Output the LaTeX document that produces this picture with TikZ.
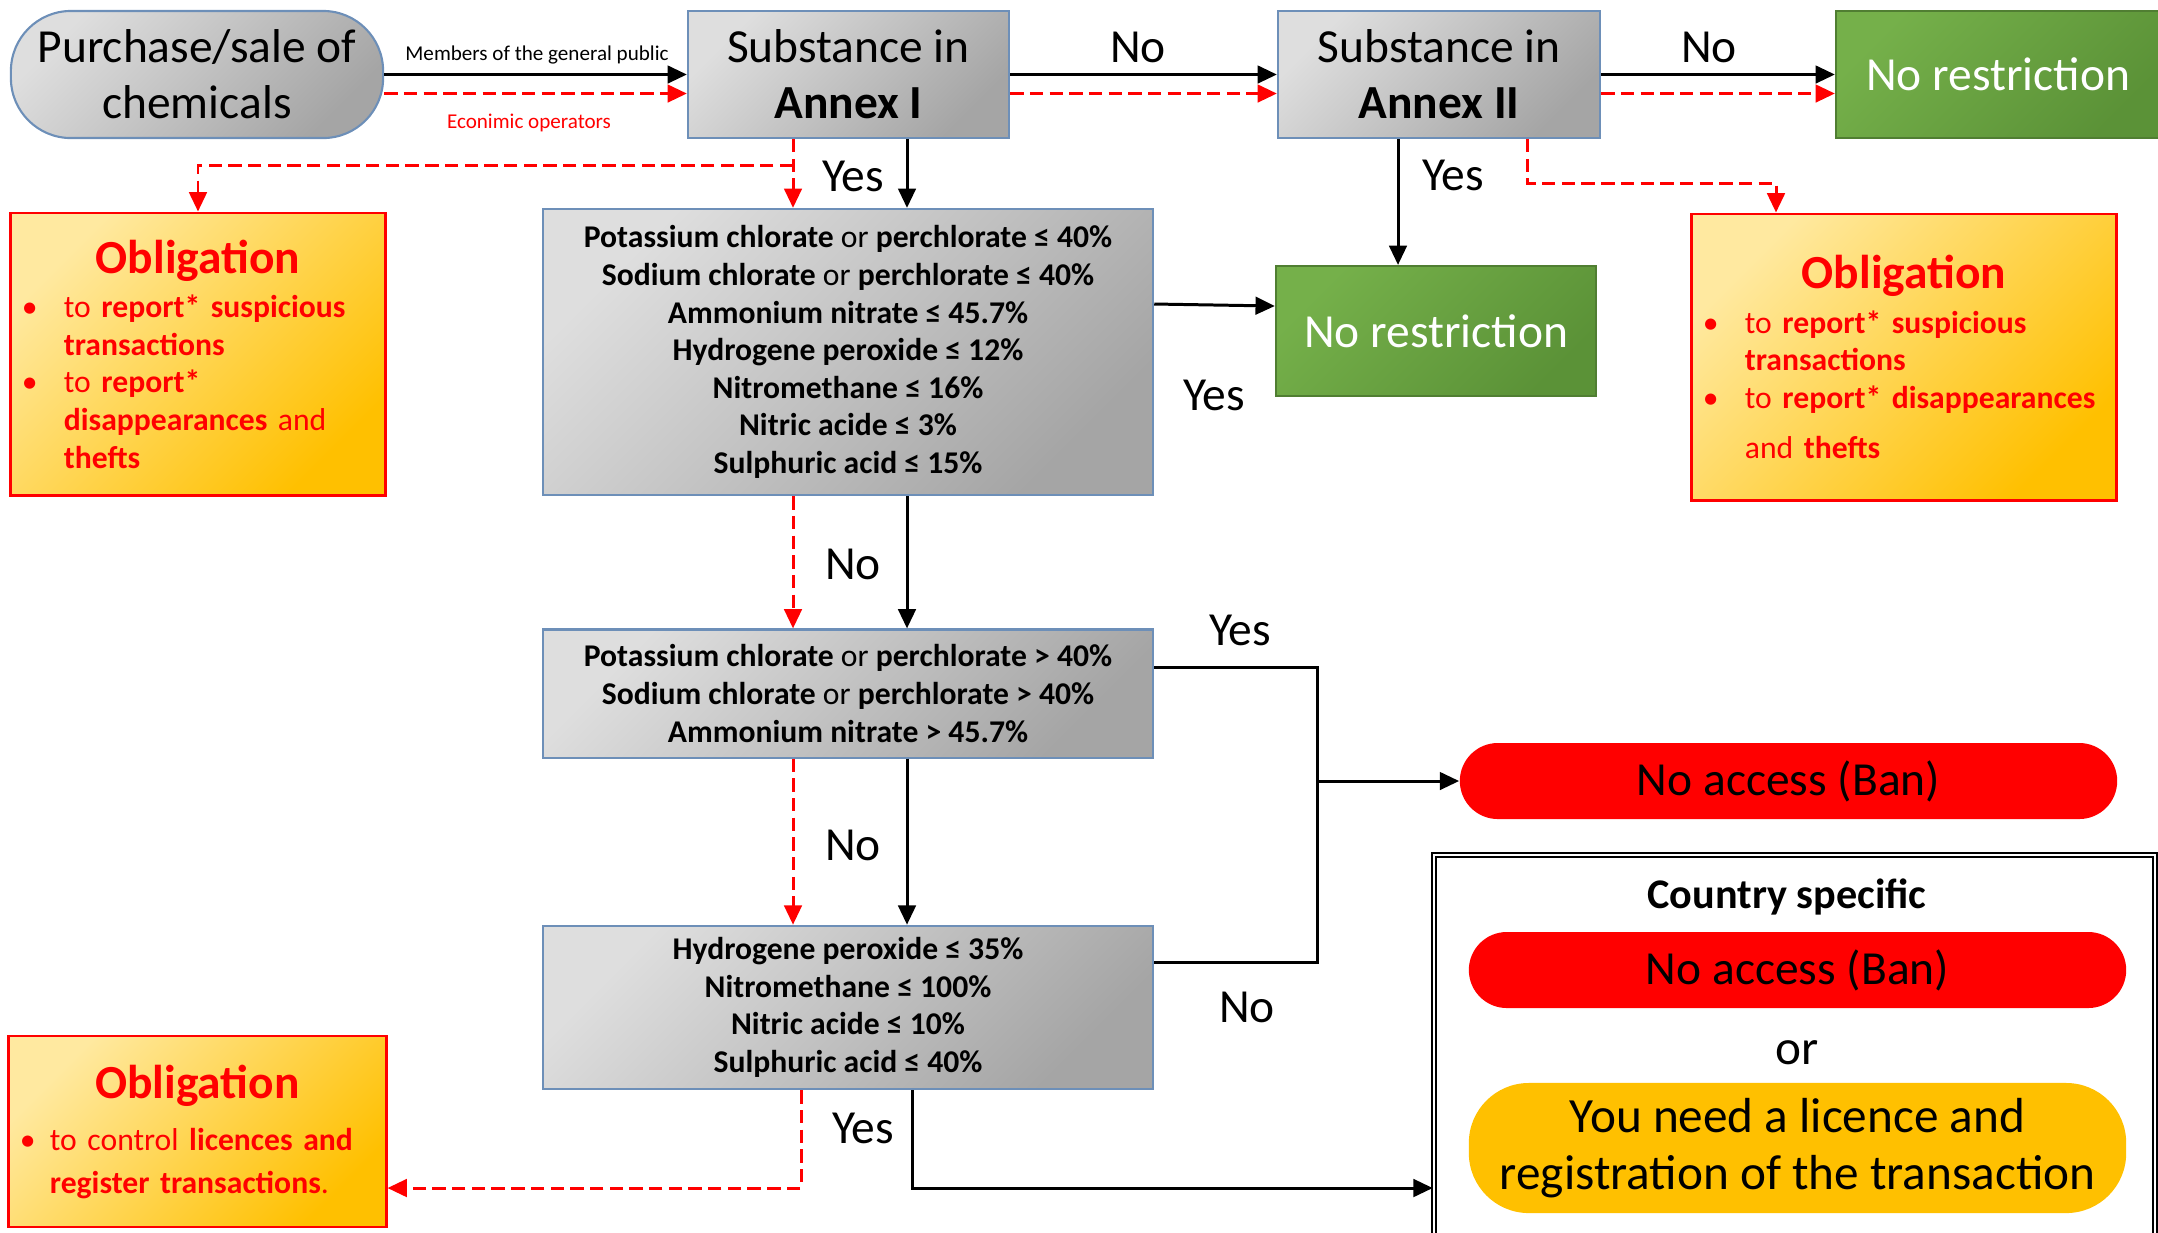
\documentclass[tikz,border=0pt]{standalone}
\usepackage{fontspec}
\setmainfont{Carlito}
\usetikzlibrary{arrows.meta}

\definecolor{greylight}{HTML}{DEDEDE}
\definecolor{greydark}{HTML}{A5A5A5}
\definecolor{greyline}{HTML}{6D8FB8}
\definecolor{greenlight}{HTML}{75B04A}
\definecolor{greendark}{HTML}{5B9237}
\definecolor{greenline}{HTML}{507E32}
\definecolor{obllight}{HTML}{FFE9A0}
\definecolor{obldark}{HTML}{FFC000}
\definecolor{banred}{HTML}{FF0000}
\definecolor{licyellow}{HTML}{FFC000}

\setlength{\parindent}{0pt}
\newcommand{\bigtxt}{\fontsize{13.5}{16}\selectfont}
\newcommand{\listtxt}{\fontsize{9}{10.7}\selectfont}
\newcommand{\smalltxt}{\fontsize{6}{7}\selectfont}
\newcommand{\obbullet}[1]{\makebox[#1][l]{\textbullet}}

\tikzset{
  greybox/.style={draw=greyline, line width=0.6pt, top color=greylight, bottom color=greydark, shading angle=45, align=center},
  greenbox/.style={draw=greenline, line width=0.6pt, top color=greenlight, bottom color=greendark, shading angle=45, text=white, font=\bigtxt},
  oblbox/.style={draw=banred, line width=0.8pt, top color=obllight, bottom color=obldark, shading angle=45, text=banred, font=\listtxt, align=left, inner xsep=0.11cm},
  pill/.style={minimum width=6.57cm, font=\bigtxt, align=center},
  answer/.style={font=\bigtxt, inner sep=1pt},
  flow/.style={-{Triangle[length=5.5pt,width=5pt]}, line width=0.85pt},
  redflow/.style={flow, banred, dash pattern=on 3.8pt off 1.8pt},
  link/.style={line width=0.85pt},
  redlink/.style={link, banred, dash pattern=on 3.8pt off 1.8pt}
}

\begin{document}
\begin{tikzpicture}[x=0.01cm, y=-0.01cm]
  \useasboundingbox (0,0) rectangle (2158,1232);

  % TOP ROW
  \node[greybox, rounded corners=0.6cm, minimum width=3.72cm, minimum height=1.27cm, font=\bigtxt] (purchase) at (197,74.5) {Purchase/sale of\\chemicals};
  \node[greybox, minimum width=3.21cm, minimum height=1.27cm, font=\bigtxt] (annex1) at (848.5,74.5) {Substance in\\\textbf{Annex I}};
  \node[greybox, minimum width=3.22cm, minimum height=1.27cm, font=\bigtxt] (annex2) at (1439,74.5) {Substance in\\\textbf{Annex II}};
  \node[greenbox, minimum width=3.24cm, minimum height=1.27cm] (free1) at (1998,74.5) {No restriction};

  % Concentration checks
  \node[greybox, minimum width=6.10cm, minimum height=2.86cm, font={\listtxt\bfseries}] (pot1) at (848,352)
    {Potassium chlorate {\mdseries or} perchlorate ≤ 40\%\\
     Sodium chlorate {\mdseries or} perchlorate ≤ 40\%\\
     Ammonium nitrate ≤ 45.7\%\\
     Hydrogene peroxide ≤ 12\%\\
     Nitromethane ≤ 16\%\\
     Nitric acide ≤ 3\%\\
     Sulphuric acid ≤ 15\%};
  \node[greybox, minimum width=6.10cm, minimum height=1.28cm, font={\listtxt\bfseries}] (pot2) at (848,693.5)
    {Potassium chlorate {\mdseries or} perchlorate > 40\%\\
     Sodium chlorate {\mdseries or} perchlorate > 40\%\\
     Ammonium nitrate > 45.7\%};
  \node[greybox, minimum width=6.10cm, minimum height=1.51cm, font={\listtxt\bfseries}] (hydro) at (848,1007.5)
    {Hydrogene peroxide ≤ 35\%\\
     Nitromethane ≤ 100\%\\
     Nitric acide ≤ 10\%\\
     Sulphuric acid ≤ 40\%};
  \node[greenbox, minimum width=3.20cm, minimum height=1.30cm] (free2) at (1436,331) {No restriction};

  % Obligations
  \node[oblbox, text width=3.52cm, minimum height=2.82cm] (oblig1) at (198,354) {%
    {\centering\bigtxt\bfseries Obligation\par}\vspace{2pt}
    \obbullet{0.42cm}to \textbf{report* suspicious}\par
    \hspace*{0.42cm}\textbf{transactions}\par
    \obbullet{0.42cm}to \textbf{report*}\par
    \hspace*{0.42cm}\textbf{disappearances} and\par
    \hspace*{0.42cm}\textbf{thefts}};
  \node[oblbox, text width=4.02cm, minimum height=2.86cm] (oblig2) at (1904,357) {%
    {\centering\bigtxt\bfseries Obligation\par}\vspace{2pt}
    \obbullet{0.42cm}to \textbf{report* suspicious}\par
    \hspace*{0.42cm}\textbf{transactions}\par
    \obbullet{0.42cm}to \textbf{report* disappearances}\par\vspace{3.5pt}
    \hspace*{0.42cm}and \textbf{thefts}};
  \node[oblbox, text width=3.55cm, minimum height=1.91cm, font={\fontsize{9}{12}\selectfont}] (oblig3) at (197.5,1131.5) {%
    {\centering\bigtxt\bfseries Obligation\par}\vspace{3pt}
    \obbullet{0.30cm}to control \textbf{licences and}\par
    \hspace*{0.30cm}\textbf{register transactions}.};

  % Ban and country specific
  \node[pill, fill=banred, rounded corners=0.38cm, minimum height=0.76cm] (ban) at (1788.5,781) {No access (Ban)};
  \node[draw=black, double, double distance=0.5pt, line width=0.6pt, minimum width=7.21cm, minimum height=3.85cm] (country) at (1794.5,1047.5) {};
  \node[font={\fontsize{12}{14}\selectfont\bfseries}] (countrytitle) at (1787,897) {Country specific};
  \node[pill, fill=banred, rounded corners=0.38cm, minimum height=0.76cm] (ban2) at (1797.5,970) {No access (Ban)};
  \node[font={\fontsize{14}{16}\selectfont}] (ortext) at (1797,1053) {or};
  \node[pill, fill=licyellow, rounded corners=0.6cm, minimum height=1.30cm, font={\fontsize{14}{16}\selectfont}] (licence) at (1797.5,1148) {You need a licence and\\registration of the transaction};

  % Connectors
  \coordinate (redlane) at (793,0);
  \coordinate (mainlane) at (907,0);
  \coordinate (joint) at (1317,781);

  \draw[flow] (purchase.east) -- (annex1.west);
  \draw[redflow] ([yshift=-0.19cm]purchase.east) -- ([yshift=-0.19cm]annex1.west);
  \draw[flow] (annex1.east) -- (annex2.west);
  \draw[redflow] ([yshift=-0.19cm]annex1.east) -- ([yshift=-0.19cm]annex2.west);
  \draw[flow] (annex2.east) -- (free1.west);
  \draw[redflow] ([yshift=-0.19cm]annex2.east) -- ([yshift=-0.19cm]free1.west);

  \draw[flow] (annex1.south -| mainlane) -- (pot1.north -| mainlane);
  \draw[redflow] (annex1.south -| redlane) -- (pot1.north -| redlane);
  \draw[redflow] (redlane |- 0,165) -| (oblig1.north);

  \draw[flow] (annex2.south -| 1398,0) -- (free2.north -| 1398,0);
  \draw[redflow] (annex2.south -| 1527,0) -- ++(0,44) -| (oblig2.north -| 1776,0);

  \draw[flow] (pot1.east |- 0,304) -- (free2.west |- 0,306);
  \draw[flow] (pot1.south -| mainlane) -- (pot2.north -| mainlane);
  \draw[redflow] (pot1.south -| redlane) -- (pot2.north -| redlane);
  \draw[flow] (pot2.south -| mainlane) -- (hydro.north -| mainlane);
  \draw[redflow] (pot2.south -| redlane) -- (hydro.north -| redlane);

  \draw[link] (pot2.east |- 0,667) -| (joint) |- (hydro.east |- 0,962);
  \draw[flow] (joint) -- (ban.west);

  \draw[flow] (hydro.south -| 912,0) |- (country.west |- 0,1188);
  \draw[redflow] (hydro.south -| 801,0) |- (oblig3.east |- 0,1188);

  % Labels
  \node[font=\smalltxt] (public) at (537,55) {Members of the general public};
  \node[font=\smalltxt, text=banred] (operators) at (529,123) {Econimic operators};
  \foreach \nm/\px/\py/\txt in {no1/1138/47/No, no2/1709/47/No, yes1/853/176/Yes, yes2/1453/175/Yes,
      yes3/1214/395/Yes, no3/853/564/No, no4/853/845/No, yes4/1240/630/Yes, no5/1247/1007/No, yes5/863/1128/Yes} {
    \node[answer] (\nm) at (\px,\py) {\txt};
  }
\end{tikzpicture}
\end{document}
